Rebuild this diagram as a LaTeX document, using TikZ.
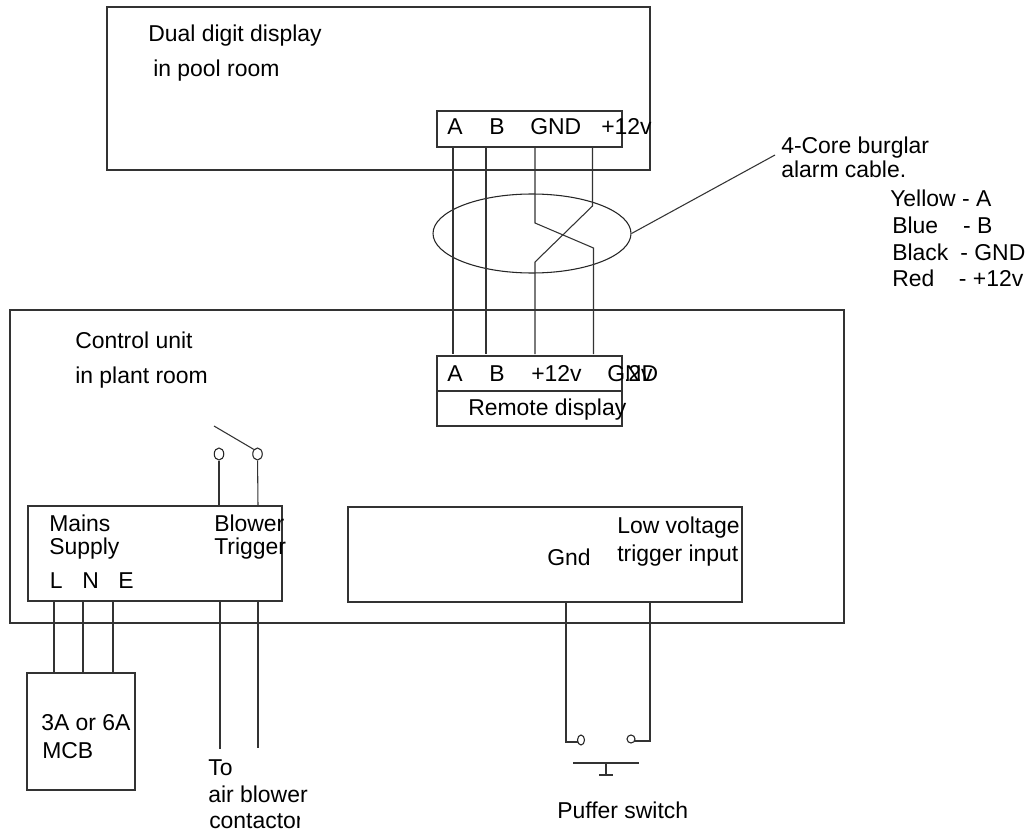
\documentclass[tikz,border=0pt]{standalone}
\usepackage{fontspec}
\setmainfont{Liberation Sans}
\usetikzlibrary{shapes.geometric}
\tikzset{
  wire/.style={draw=black!80, line width=0.8pt},
  boxn/.style={draw=black!80, line width=0.8pt, rectangle, inner sep=0pt},
  lbl/.style={anchor=base west, inner sep=0pt, font=\fontsize{17.2pt}{20pt}\selectfont, text=black},
  term/.style={draw=black!85, line width=0.8pt, ellipse, inner sep=0pt}
}
\begin{document}
\begin{tikzpicture}[x=0.75pt,y=-0.75pt]
\useasboundingbox (0,0) rectangle (1031,838);
\fill[white] (0,0) rectangle (1031,838);
% boxes
\node[boxn, minimum width=543*0.75pt, minimum height=163*0.75pt] (dispbox) at (378.5,88.5) {};
\node[boxn, minimum width=185*0.75pt, minimum height=36*0.75pt] (dispterm) at (529.5,129) {};
\node[boxn, minimum width=834*0.75pt, minimum height=313*0.75pt] (ctrl) at (427,466.5) {};
\node[boxn, minimum width=185*0.75pt, minimum height=35*0.75pt] (remterm) at (529.5,373.5) {};
\node[boxn, minimum width=185*0.75pt, minimum height=35*0.75pt] (remlab) at (529.5,408.5) {};
\node[boxn, minimum width=254*0.75pt, minimum height=95*0.75pt] (mains) at (155,553.5) {};
\node[boxn, minimum width=394*0.75pt, minimum height=95*0.75pt] (lowv) at (545,554.5) {};
\node[boxn, minimum width=108*0.75pt, minimum height=117*0.75pt] (mcb) at (81,731.5) {};
% cable ellipse
\node[term, minimum width=198*0.75pt, minimum height=79*0.75pt] (cable) at (532,233.5) {};
% connector coordinates
\coordinate (ta) at (453,147); \coordinate (ra) at (453,354);
\coordinate (tb) at (486,147); \coordinate (rb) at (486,354);
\coordinate (tg) at (535,147); \coordinate (g1) at (535,223); \coordinate (g2) at (593.5,248); \coordinate (rg) at (593.5,354);
\coordinate (tp) at (592.5,147); \coordinate (p1) at (592.5,206); \coordinate (p2) at (535,262); \coordinate (rp) at (535,354);
\draw[wire] (ta) -- (ra);
\draw[wire] (tb) -- (rb);
\draw[wire] (tg) -- (g1) -- (g2) -- (rg);
\draw[wire] (tp) -- (p1) -- (p2) -- (rp);
\coordinate (lead) at (775,155);
\draw[wire] (cable.east) -- (lead);
% switch
\node[term, minimum width=9.5*0.75pt, minimum height=12*0.75pt] (sw1) at (219,454) {};
\node[term, minimum width=9.5*0.75pt, minimum height=12*0.75pt] (sw2) at (257.5,454) {};
\coordinate (lev) at (214,426);
\draw[wire] (lev) -- (sw2.north west);
\coordinate (m1) at (219,506); \coordinate (m2) at (258,506);
\draw[wire] (sw1) -- (m1);
\draw[wire] (sw2) -- (m2);
% mains wires
\foreach \n/\x in {l/54,n/83,e/113}{
  \coordinate (a\n) at (\x,601); \coordinate (b\n) at (\x,673);
  \draw[wire] (a\n) -- (b\n);
}
\coordinate (bl1t) at (220,601); \coordinate (bl1b) at (220,749);
\coordinate (bl2t) at (258,601); \coordinate (bl2b) at (258,748);
\draw[wire] (bl1t) -- (bl1b);
\draw[wire] (bl2t) -- (bl2b);
% puffer
\node[term, minimum width=7*0.75pt, minimum height=10*0.75pt] (pf1) at (581,740) {};
\node[term, minimum width=8*0.75pt, minimum height=8*0.75pt] (pf2) at (631,739) {};
\coordinate (lv1) at (566,602); \coordinate (lv2) at (650,602);
\coordinate (lv1b) at (566,742); \coordinate (lv2b) at (650,741);
\draw[wire] (lv1) -- (lv1b) -- (pf1.south west |- lv1b);
\draw[wire] (lv2) -- (lv2b) -- (pf2.south east |- lv2b);
\coordinate (bt1) at (573,763); \coordinate (bt2) at (639,763);
\coordinate (st1) at (606,763); \coordinate (st2) at (606,775);
\coordinate (bs1) at (599,775); \coordinate (bs2) at (613,775);
\draw[wire] (bt1) -- (bt2);
\draw[wire] (st1) -- (st2);
\draw[wire] (bs1) -- (bs2);
% labels
\node[lbl] (t1) at (148,42) {Dual digit display};
\node[lbl] (t2) at (153,77) {in pool room};
\node[lbl] (t3) at (447,135) {A};
\node[lbl] (t4) at (489,135) {B};
\node[lbl] (t5) at (530,135) {GND};
\node[lbl] (t6) at (601,135) {+12v};
\node[lbl] (t7) at (781,154) {4-Core burglar};
\node[lbl] (t8) at (781,178) {alarm cable.};
\node[lbl] (t9) at (890,206) {Yellow - A};
\node[lbl] (t10) at (892,233) {Blue\hspace{18.8pt}- B};
\node[lbl] (t11) at (892,260) {Black\hspace{9pt}- GND};
\node[lbl] (t12) at (892,286) {Red\hspace{18.4pt}- +12v};
\node[lbl] (t13) at (75,348) {Control unit};
\node[lbl] (t14) at (75,383) {in plant room};
\node[lbl] (t15) at (447,381) {A};
\node[lbl] (t16) at (489,381) {B};
\node[lbl] (t17) at (531,381) {+12v};
\node[lbl] (t18) at (607,381) {GND};
\begin{scope}
\clip (626,355) rectangle (665,395);
\node[lbl] (t19) at (602,381) {+12v};
\end{scope}
\node[lbl] (t20) at (468,415) {Remote display};
\node[lbl] (t21) at (49,531) {Mains};
\node[lbl] (t22) at (49,554) {Supply};
\node[lbl] (t23) at (214,531) {Blower};
\node[lbl] (t24) at (214,554) {Trigger};
\node[lbl] (t25) at (49.5,588) {L};
\node[lbl] (t26) at (82,588) {N};
\node[lbl] (t27) at (118,588) {E};
\node[lbl] (t28) at (617,533) {Low voltage};
\node[lbl] (t29) at (617,561) {trigger input};
\node[lbl] (t30) at (547,565) {Gnd};
\node[lbl] (t31) at (41,730) {3A or 6A};
\node[lbl] (t32) at (42,758) {MCB};
\node[lbl] (t33) at (208,775) {To};
\node[lbl] (t34) at (208,802) {air blower};
\begin{scope}
\clip (200,805) rectangle (299.5,838);
\node[lbl] (t35) at (209,828) {contactor};
\end{scope}
\node[lbl] (t36) at (557,818) {Puffer switch};
\end{tikzpicture}
\end{document}
